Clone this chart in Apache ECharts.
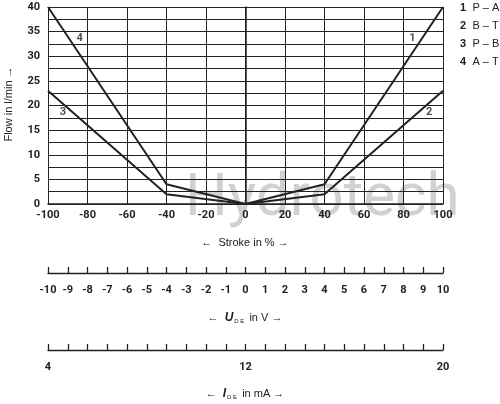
<!DOCTYPE html>
<html>
<head>
<meta charset="utf-8">
<script src="https://cdn.jsdelivr.net/npm/echarts@6/dist/echarts.min.js"></script>
<style>html,body{margin:0;padding:0;background:#fff}#chart{width:500px;height:404px}</style>
</head>
<body>
<div id="chart"></div>
<script>
// flow curves: [stroke %, flow l/min]
const curvePA = [[0, 0], [40, 4], [100, 40]];
const curveBT = [[0, 0], [40, 2], [100, 23]];
const curvePB = [[-100, 23], [-40, 2], [0, 0]];
const curveAT = [[-100, 40], [-40, 4], [0, 0]];
const curveTags = [[-84, 33.7, "4"], [84.5, 33.7, "1"], [-92.5, 18.7, "3"], [93, 18.7, "2"]];
const legendItems = [["1", "P – A"], ["2", "B – T"], ["3", "P – B"], ["4", "A – T"]];
const currentLabels = { "-10": "4", "0": "12", "10": "20" };

const font = "Roboto";
const ink = "#222";

let myChart = echarts.init(document.getElementById("chart"), null, { renderer: "canvas" });

const lineSeries = (data) => ({
  type: "line", data: data, symbol: "none",
  lineStyle: { color: ink, width: 2 }, xAxisIndex: 0, yAxisIndex: 0
});

const scaleAxis = (grid, fmt) => ({
  gridIndex: grid, type: "value", min: -10, max: 10, interval: 1, position: "bottom",
  axisLine: { lineStyle: { color: ink, width: 1.3 } },
  axisTick: { inside: true, length: 6, lineStyle: { color: ink, width: 1.3 } },
  axisLabel: { color: ink, fontFamily: font, fontWeight: "bold", fontSize: 11, margin: 12, formatter: fmt },
  splitLine: { show: false }
});

const sub = {
  a: { fontSize: 11, fill: ink },
  b: { fontSize: 12, fontWeight: "bold", fontStyle: "italic", fill: ink },
  s: { fontSize: 6, fill: ink, verticalAlign: "bottom", padding: [6, 2, 0, 1] }
};

let option = {
  animation: false,
  textStyle: { fontFamily: font },
  grid: [
    { left: 48, top: 7, width: 395, height: 197 },
    { left: 48, top: 273, width: 395, height: 0 },
    { left: 48, top: 350, width: 395, height: 0 }
  ],
  xAxis: [
    {
      gridIndex: 0, type: "value", min: -100, max: 100, interval: 20,
      axisLine: { lineStyle: { color: ink, width: 1.5 } },
      axisTick: { show: false },
      axisLabel: { color: ink, fontWeight: "bold", fontSize: 11, margin: 6 },
      splitLine: { lineStyle: { color: ink, width: 1 } }
    },
    scaleAxis(1, (v) => String(v)),
    scaleAxis(2, (v) => currentLabels[String(v)] || "")
  ],
  yAxis: [
    {
      gridIndex: 0, type: "value", min: 0, max: 40, interval: 2.5,
      axisLine: { show: true, lineStyle: { color: ink, width: 1.5 } },
      axisTick: { show: false },
      axisLabel: { color: ink, fontWeight: "bold", fontSize: 11, margin: 8,
        formatter: (v) => (v % 5 === 0 ? String(v) : "") },
      splitLine: { lineStyle: { color: ink, width: 1 } }
    },
    { gridIndex: 1, show: false, min: 0, max: 1 },
    { gridIndex: 2, show: false, min: 0, max: 1 }
  ],
  graphic: [
    { type: "text", left: 185, top: 170, z: 0, silent: true,
      style: { text: "Hydrotech", fontSize: 60, fontFamily: font, fill: "rgba(140,140,140,0.4)" } },
    { type: "text", x: 9, y: 104, rotation: Math.PI / 2,
      style: { text: "Flow in l/min →", fontSize: 11, fill: ink, align: "center", verticalAlign: "middle" } },
    { type: "text", x: 245, y: 243,
      style: { text: "←  Stroke in % →", fontSize: 11, fill: ink, align: "center", verticalAlign: "middle" } },
    { type: "text", x: 245, y: 318,
      style: { text: "{a|←  }{b|U}{s|D E}{a| in V →}", align: "center", verticalAlign: "middle", rich: sub } },
    { type: "text", x: 245, y: 394,
      style: { text: "{a|←  }{b|I}{s|D E}{a| in mA →}", align: "center", verticalAlign: "middle", rich: sub } }
  ].concat(legendItems.map((it, i) => ({
    type: "text", left: 460, top: 2 + i * 18,
    style: { text: "{n|" + it[0] + "} {t|" + it[1] + "}",
      rich: { n: { fontSize: 11, fontWeight: "bold", fill: ink, padding: [0, 3, 0, 0] }, t: { fontSize: 11, fill: ink } } }
  }))),
  series: [
    lineSeries(curvePA), lineSeries(curveBT), lineSeries(curvePB), lineSeries(curveAT),
    {
      type: "scatter", data: curveTags, symbolSize: 0, xAxisIndex: 0, yAxisIndex: 0,
      label: { show: true, position: "inside", formatter: (p) => p.data[2],
        color: ink, fontWeight: "bold", fontSize: 11, backgroundColor: "#fff", padding: [0, 1] }
    }
  ]
};

myChart.setOption(option);
</script>
</body>
</html>
